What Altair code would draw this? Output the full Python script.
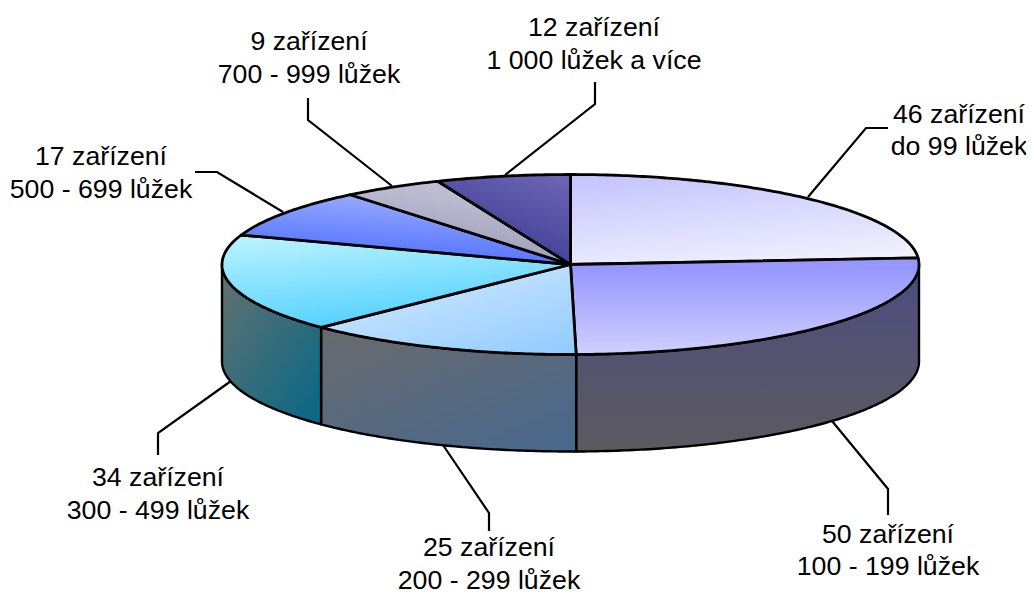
import math
import altair as alt
import pandas as pd

counts = [46, 50, 25, 34, 17, 9, 12]
line1 = ["46 zařízení", "50 zařízení", "25 zařízení", "34 zařízení", "17 zařízení", "9 zařízení", "12 zařízení"]
line2 = ["do 99 lůžek", "100 - 199 lůžek", "200 - 299 lůžek", "300 - 499 lůžek", "500 - 699 lůžek", "700 - 999 lůžek", "1 000 lůžek a více"]

# layout, in page pixels
CX, CY, RX, RY, DEPTH = 570.5, 264.5, 348.5, 90, 97
label_x = [959, 888, 489, 158, 101, 309, 594]
label_y1 = [114.5, 534.5, 548, 478, 157, 42, 28]
label_gap = 32.5
leader_start_x = [808, 832, 443, 231, 283, 392, 505]
leader_start_y = [197, 421, 445, 381, 212, 186, 175]
leader_elbow_x = [866, 888, 489, 158, 217, 308, 595]
leader_elbow_y = [128, 489, 513, 433, 172, 120, 104]
leader_end_x = [888, 888, 489, 158, 195, 308, 595]
leader_end_y = [128, 515, 531, 455, 172, 98, 82]

top_colors = [
    ("#c6c6ff", "#f0f0ff", 0.25, 0, 0.6, 1),
    ("#9696ff", "#d0d0ff", 0.5, 0.1, 0.5, 1),
    ("#d6ecff", "#94ccff", 0.1, 0, 0.9, 1),
    ("#b8f2ff", "#4ecfff", 0.2, 0, 0.55, 1),
    ("#a0b0ff", "#4a6cff", 0.7, 0, 0.4, 1),
    ("#c6c6d8", "#9898b8", 0.7, 0, 0.35, 1),
    ("#6c64b4", "#383890", 0.85, 0, 0.35, 1),
]
wall_colors = {
    1: ("#4c4c80", "#5c5a60", 0.5, 0, 0.5, 1),
    2: ("#686a6e", "#48688c", 0.1, 0, 0.9, 1),
    3: ("#5c7072", "#0c6884", 0.1, 0.1, 0.9, 0.95),
}

total = sum(counts)
edges = [0]
for c in counts:
    edges.append(edges[-1] + c / total * 360)


def pt(a, dy=0):
    r = math.radians(a)
    return CX + RX * math.sin(r), CY - RY * math.cos(r) + dy


def arc(a0, a1, dy=0):
    n = max(2, int(abs(a1 - a0) * 1.5))
    return [pt(a0 + (a1 - a0) * i / n, dy) for i in range(n + 1)]


x_enc = alt.X("x:Q", axis=None, scale=alt.Scale(domain=[8, 1026], range=[0, 1018], nice=False, zero=False))
y_enc = alt.Y("y:Q", axis=None, scale=alt.Scale(domain=[8, 595], range=[0, 587], nice=False, zero=False))


def poly(points, colors, sw):
    c0, c1, x1, y1, x2, y2 = colors
    df = pd.DataFrame({"x": [p[0] for p in points], "y": [p[1] for p in points], "i": range(len(points))})
    grad = alt.Gradient(gradient="linear", x1=x1, y1=y1, x2=x2, y2=y2,
                        stops=[alt.GradientStop(color=c0, offset=0), alt.GradientStop(color=c1, offset=1)])
    return alt.Chart(df).mark_line(interpolate="linear-closed", fill=grad, stroke="black",
                                   strokeWidth=sw, strokeJoin="round").encode(
        x=x_enc, y=y_enc, order="i:Q")


layers = []

# leaders
rows = []
for k in range(len(counts)):
    xs = [leader_start_x[k], leader_elbow_x[k], leader_end_x[k]]
    ys = [leader_start_y[k], leader_elbow_y[k], leader_end_y[k]]
    for i in range(3):
        rows.append({"k": k, "i": i, "x": xs[i], "y": ys[i]})
layers.append(alt.Chart(pd.DataFrame(rows)).mark_line(color="black", strokeWidth=2.2).encode(
    x=x_enc, y=y_enc, detail="k:N", order="i:Q"))

# walls
for k, (a0, a1) in {1: (90, edges[2]), 2: (edges[2], edges[3]), 3: (edges[3], 270)}.items():
    pts = arc(a0, a1) + arc(a1, a0, DEPTH)
    layers.append(poly(pts, wall_colors[k], 2.4))

# top slices
for k in range(len(counts)):
    pts = [(CX, CY)] + arc(edges[k], edges[k + 1])
    layers.append(poly(pts, top_colors[k], 2.8))

# labels
lab = pd.DataFrame({
    "x": label_x + label_x,
    "y": label_y1 + [v + label_gap for v in label_y1],
    "t": line1 + line2,
})
layers.append(alt.Chart(lab).mark_text(font="Liberation Sans", fontSize=26.7, color="black",
                                       align="center", baseline="middle").encode(
    x=x_enc, y=y_enc, text="t:N"))

chart = alt.layer(*layers).properties(
    width=1018, height=587, padding=0, background="white",
    autosize=alt.AutoSizeParams(type="none"),
).configure_view(stroke=None)
chart.save("out.html", embed_options={"renderer": "svg", "actions": False})
